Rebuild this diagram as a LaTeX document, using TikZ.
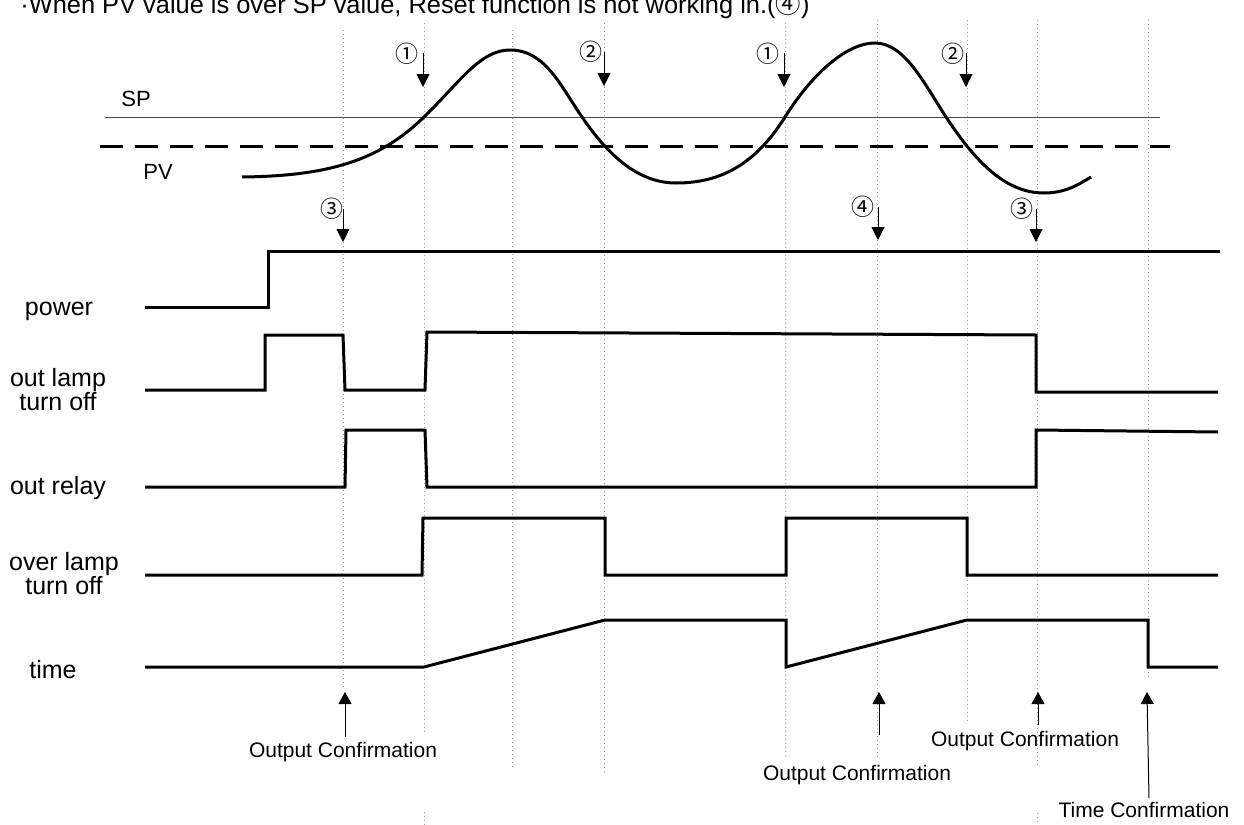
\documentclass[tikz,border=0pt]{standalone}
\usepackage{fontspec}
\setmainfont{Liberation Sans}
\newfontfamily\circfont{Noto Sans CJK KR}
\usetikzlibrary{arrows.meta}

\begin{document}
\begin{tikzpicture}[x=0.5pt, y=-0.5pt]
\tikzstyle{wave} = [line width=1.5 pt, line join=miter, black]
\tikzstyle{guide} = [line width=0.5 pt, gray!75, dash pattern=on 0.5pt off 1.5pt]
\tikzstyle{signame} = [align=center, inner sep=0 pt, font=\fontsize{12.5}{12}\selectfont]
\tikzstyle{tag} = [inner sep=0 pt, font=\fontsize{11}{12}\selectfont]
\tikzstyle{conf} = [inner sep=0 pt, font=\fontsize{10.5}{12}\selectfont]
\tikzstyle{num} = [inner sep=0 pt, font=\circfont\fontsize{11.5}{12}\selectfont]
\tikzstyle{numarrow} = [line width=0.5 pt, -{Triangle[width=6.5pt, length=6.5pt]}]
\tikzstyle{confarrow} = [line width=0.5 pt, -{Triangle[width=6.5pt, length=6pt]}]

\fill [white] (0,0) rectangle (1244,825);
\useasboundingbox (0,0) rectangle (1244,825);

\node (title) [anchor=base west, inner sep=0 pt, font=\fontsize{12.7}{14}\selectfont] at (20,13) {·When PV value is over SP value, Reset function is not working in.({\circfont ④})};

% dotted guides
\draw [guide] (343,30) -- (343,690);
\draw [guide] (424,23) -- (424,733);
\draw [guide] (424,812) -- (424,825);
\draw [guide] (512,30) -- (512,768);
\draw [guide] (604,23) -- (604,772);
\draw [guide] (785,23) -- (785,757);
\draw [guide] (877,20) -- (877,758);
\draw [guide] (967,20) -- (967,722);
\draw [guide] (1037,20) -- (1037,767);
\draw [guide] (1037,813) -- (1037,825);
\draw [guide] (1148,20) -- (1148,680);

% SP and PV
\node (sp) [tag] at (136,99) {SP};
\node (pv) [tag] at (158,172) {PV};
\draw [line width=0.5 pt, black!70] (105,117) -- (1160,117);
\draw [line width=1.5 pt, dash pattern=on 11.5pt off 6pt] (100,146) -- (1170,146);
\draw [line width=1.5 pt] (242,177) .. controls (330,176) and (380,160) .. (424,117)
  .. controls (460,82) and (480,50) .. (510,50)
  .. controls (545,50) and (560,85) .. (582,117)
  .. controls (610,158) and (640,183) .. (676,183)
  .. controls (720,183) and (755,165) .. (785,117)
  .. controls (810,77) and (845,43) .. (875,43)
  .. controls (905,43) and (925,85) .. (946,117)
  .. controls (975,161) and (1005,193) .. (1044,193)
  .. controls (1065,193) and (1078,185) .. (1091,177);

% markers
\node (n1a) [num] at (407,54) {①};
\node (n2a) [num] at (591,52) {②};
\node (n3a) [num] at (332,209) {③};
\node (n1b) [num] at (768,54) {①};
\node (n2b) [num] at (953,54) {②};
\node (n4)  [num] at (863,207) {④};
\node (n3b) [num] at (1022,209) {③};
\coordinate (n1a-s) at (423,53);  \coordinate (n1a-e) at (423,87);
\coordinate (n2a-s) at (604,52);  \coordinate (n2a-e) at (604,86);
\coordinate (n3a-s) at (343,209); \coordinate (n3a-e) at (343,242);
\coordinate (n1b-s) at (784,53);  \coordinate (n1b-e) at (784,87);
\coordinate (n2b-s) at (966,53);  \coordinate (n2b-e) at (966,87);
\coordinate (n4-s)  at (878,207); \coordinate (n4-e)  at (878,240);
\coordinate (n3b-s) at (1036,209); \coordinate (n3b-e) at (1036,242);
\draw [numarrow] (n1a-s) -- (n1a-e);
\draw [numarrow] (n2a-s) -- (n2a-e);
\draw [numarrow] (n3a-s) -- (n3a-e);
\draw [numarrow] (n1b-s) -- (n1b-e);
\draw [numarrow] (n2b-s) -- (n2b-e);
\draw [numarrow] (n4-s) -- (n4-e);
\draw [numarrow] (n3b-s) -- (n3b-e);

% signal names
\node (power)    [signame] at (59,311) {power};
\node (outlamp)  [signame] at (58,390) {out lamp\\turn off};
\node (outrelay) [signame] at (58,488) {out relay};
\node (overlamp) [signame] at (64,574) {over lamp\\turn off};
\node (time)     [signame] at (53,670) {time};

% waveforms
\draw [wave] (145,307) -- (268,307) -- (268,251) -- (1220,251);
\draw [wave] (145,390) -- (265,390) -- (265,335) -- (343,335) -- (345,390) -- (425,390) -- (427,332) -- (1036,335) -- (1036,392) -- (1218,392);
\draw [wave] (145,487) -- (345,487) -- (346,430) -- (425,430) -- (427,487) -- (1036,487) -- (1036,430) -- (1218,432);
\draw [wave] (145,575) -- (422,575) -- (423,518) -- (605,518) -- (605,575) -- (786,575) -- (786,518) -- (967,518) -- (967,575) -- (1218,575);
\draw [wave] (145,667) -- (424,667) -- (605,620) -- (786,620) -- (786,667) -- (967,620) -- (1148,620) -- (1148,667) -- (1218,667);

% confirmations
\node (oc1) [conf] at (343,752) {Output Confirmation};
\node (oc2) [conf] at (857,775) {Output Confirmation};
\node (oc3) [conf] at (1025,741) {Output Confirmation};
\node (tc)  [conf] at (1144,810) {Time Confirmation};
\coordinate (oc1-s) at (345,737);  \coordinate (oc1-e) at (345,692);
\coordinate (oc2-s) at (879,735);  \coordinate (oc2-e) at (879,692);
\coordinate (oc3-s) at (1038,725); \coordinate (oc3-e) at (1038,692);
\coordinate (tc-s)  at (1149,798); \coordinate (tc-e)  at (1147,692);
\draw [confarrow] (oc1-s) -- (oc1-e);
\draw [confarrow] (oc2-s) -- (oc2-e);
\draw [confarrow] (oc3-s) -- (oc3-e);
\draw [confarrow] (tc-s) -- (tc-e);

\end{tikzpicture}
\end{document}
